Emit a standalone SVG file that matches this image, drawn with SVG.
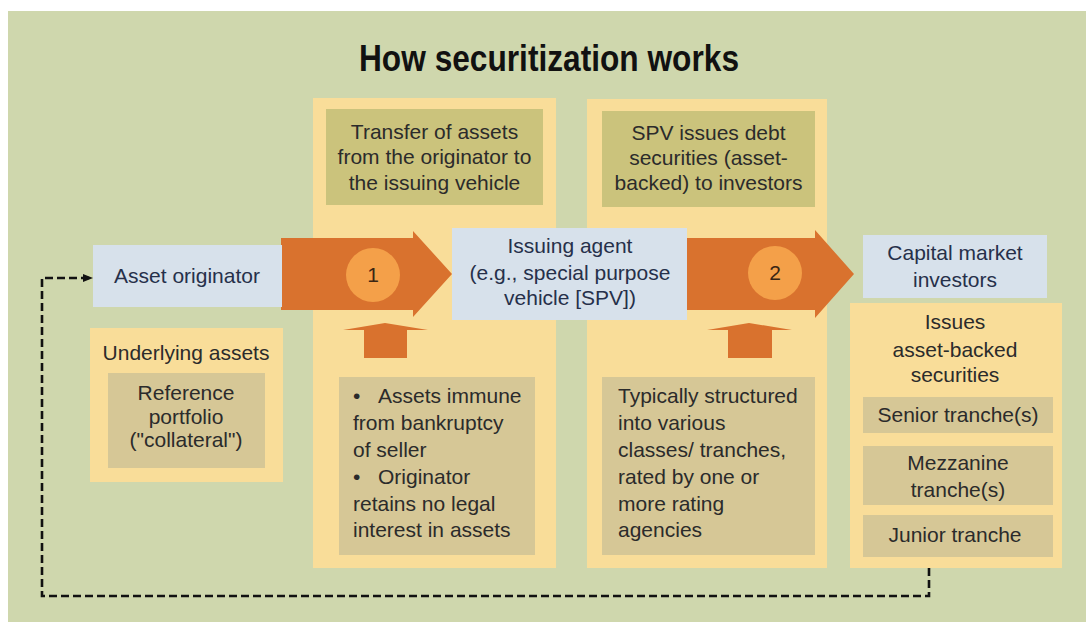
<svg xmlns="http://www.w3.org/2000/svg" width="1086" height="622" viewBox="0 0 1086 622">
  <style>
    .t { font-family: "Liberation Sans", Arial, sans-serif; font-size: 21px; fill: #2b2b2b; }
    .c { text-anchor: middle; }
    .b { fill: #26304a; }
    .col { fill: #f9dd99; }
    .olive { fill: #cbc37c; }
    .tan { fill: #d6c796; }
    .blue { fill: #d7e1eb; }
    .orange { fill: #d9722e; }
    .circ { fill: #f4a049; }
    .dash { fill: none; stroke: #111; stroke-width: 2.6; stroke-dasharray: 8 4; }
  </style>
  <defs>
    <marker id="ah" markerWidth="10" markerHeight="8" refX="9" refY="4" orient="auto" markerUnits="userSpaceOnUse">
      <path d="M0,0 L10,4 L0,8 Z" fill="#111"/>
    </marker>
  </defs>

  <rect x="8" y="11" width="1078" height="611" fill="#cfd7ad"/>

  <text x="549" y="71" text-anchor="middle" font-family="Liberation Sans, Arial, sans-serif" font-size="37" font-weight="bold" fill="#111" textLength="380" lengthAdjust="spacingAndGlyphs">How securitization works</text>

  <g id="step1-column">
    <rect class="col" x="313" y="98" width="243" height="470"/>
  </g>
  <g id="step2-column">
    <rect class="col" x="587" y="99" width="240" height="469"/>
  </g>

  <g id="transfer-label">
    <rect class="olive" x="326" y="109" width="217" height="96"/>
    <text class="t c" x="434.5" y="139">Transfer of assets</text>
    <text class="t c" x="434.5" y="164">from the originator to</text>
    <text class="t c" x="434.5" y="190">the issuing vehicle</text>
  </g>

  <g id="spv-issues-label">
    <rect class="olive" x="602" y="111" width="213" height="96"/>
    <text class="t c" x="708.5" y="140">SPV issues debt</text>
    <text class="t c" x="708.5" y="165">securities (asset-</text>
    <text class="t c" x="708.5" y="190">backed) to investors</text>
  </g>

  <g id="connectors">
    <polygon id="arrow1" class="orange" points="281,238 413,238 413,231 452,274 413,317 413,310 281,310"/>
    <polygon id="arrow2" class="orange" points="680,238 815,238 815,230 854,274 815,318 815,310 680,310"/>
    <polygon id="up1" class="orange" points="343,330 385,323 428,330 407,330 407,358 364,358 364,330"/>
    <polygon id="up2" class="orange" points="707,330 749,323 792,330 772,330 772,358 728,358 728,330"/>
    <path id="feedback" class="dash" d="M929,568 V596 H42 V278 H92" marker-end="url(#ah)"/>
  </g>

  <g id="step1-marker">
    <circle class="circ" cx="373" cy="275" r="27"/>
    <text class="t c" x="373" y="282" fill="#3a2614" style="fill:#3a2614">1</text>
  </g>
  <g id="step2-marker">
    <circle class="circ" cx="775" cy="273" r="27"/>
    <text class="t c" x="775" y="280" style="fill:#3a2614">2</text>
  </g>

  <g id="asset-originator">
    <rect class="blue" x="93" y="245" width="189" height="62"/>
    <text class="t c b" x="187" y="283">Asset originator</text>
  </g>

  <g id="underlying-assets">
    <rect class="col" x="90" y="328" width="193" height="154"/>
    <text class="t c" x="186" y="360">Underlying assets</text>
    <rect class="tan" x="108" y="373" width="157" height="95"/>
    <text class="t c" x="186" y="400">Reference</text>
    <text class="t c" x="186" y="424">portfolio</text>
    <text class="t c" x="186" y="447">("collateral")</text>
  </g>

  <g id="issuing-agent">
    <rect class="blue" x="452" y="228" width="235" height="92"/>
    <text class="t c b" x="570" y="253">Issuing agent</text>
    <text class="t c b" x="570" y="280">(e.g., special purpose</text>
    <text class="t c b" x="570" y="305">vehicle [SPV])</text>
  </g>

  <g id="transfer-notes">
    <rect class="tan" x="339" y="377" width="196" height="178"/>
    <text class="t" x="353" y="403">• <tspan x="378">Assets immune</tspan></text>
    <text class="t" x="353" y="430">from bankruptcy</text>
    <text class="t" x="353" y="457">of seller</text>
    <text class="t" x="353" y="484">• <tspan x="378">Originator</tspan></text>
    <text class="t" x="353" y="511">retains no legal</text>
    <text class="t" x="353" y="537">interest in assets</text>
  </g>

  <g id="structure-notes">
    <rect class="tan" x="602" y="377" width="213" height="178"/>
    <text class="t" x="618" y="403">Typically structured</text>
    <text class="t" x="618" y="430">into various</text>
    <text class="t" x="618" y="457">classes/ tranches,</text>
    <text class="t" x="618" y="484">rated by one or</text>
    <text class="t" x="618" y="511">more rating</text>
    <text class="t" x="618" y="537">agencies</text>
  </g>

  <g id="capital-market-investors">
    <rect class="blue" x="863" y="235" width="184" height="63"/>
    <text class="t c b" x="955" y="260">Capital market</text>
    <text class="t c b" x="955" y="287">investors</text>
  </g>

  <g id="abs-tranches">
    <rect class="col" x="850" y="303" width="212" height="265"/>
    <text class="t c" x="955" y="329">Issues</text>
    <text class="t c" x="955" y="357">asset-backed</text>
    <text class="t c" x="955" y="382">securities</text>
    <g id="senior-tranche">
      <rect class="tan" x="863" y="397" width="190" height="36"/>
      <text class="t c" x="958" y="422">Senior tranche(s)</text>
    </g>
    <g id="mezzanine-tranche">
      <rect class="tan" x="863" y="446" width="190" height="59"/>
      <text class="t c" x="958" y="470">Mezzanine</text>
      <text class="t c" x="958" y="497">tranche(s)</text>
    </g>
    <g id="junior-tranche">
      <rect class="tan" x="863" y="515" width="190" height="42"/>
      <text class="t c" x="955" y="542">Junior tranche</text>
    </g>
  </g>
</svg>
